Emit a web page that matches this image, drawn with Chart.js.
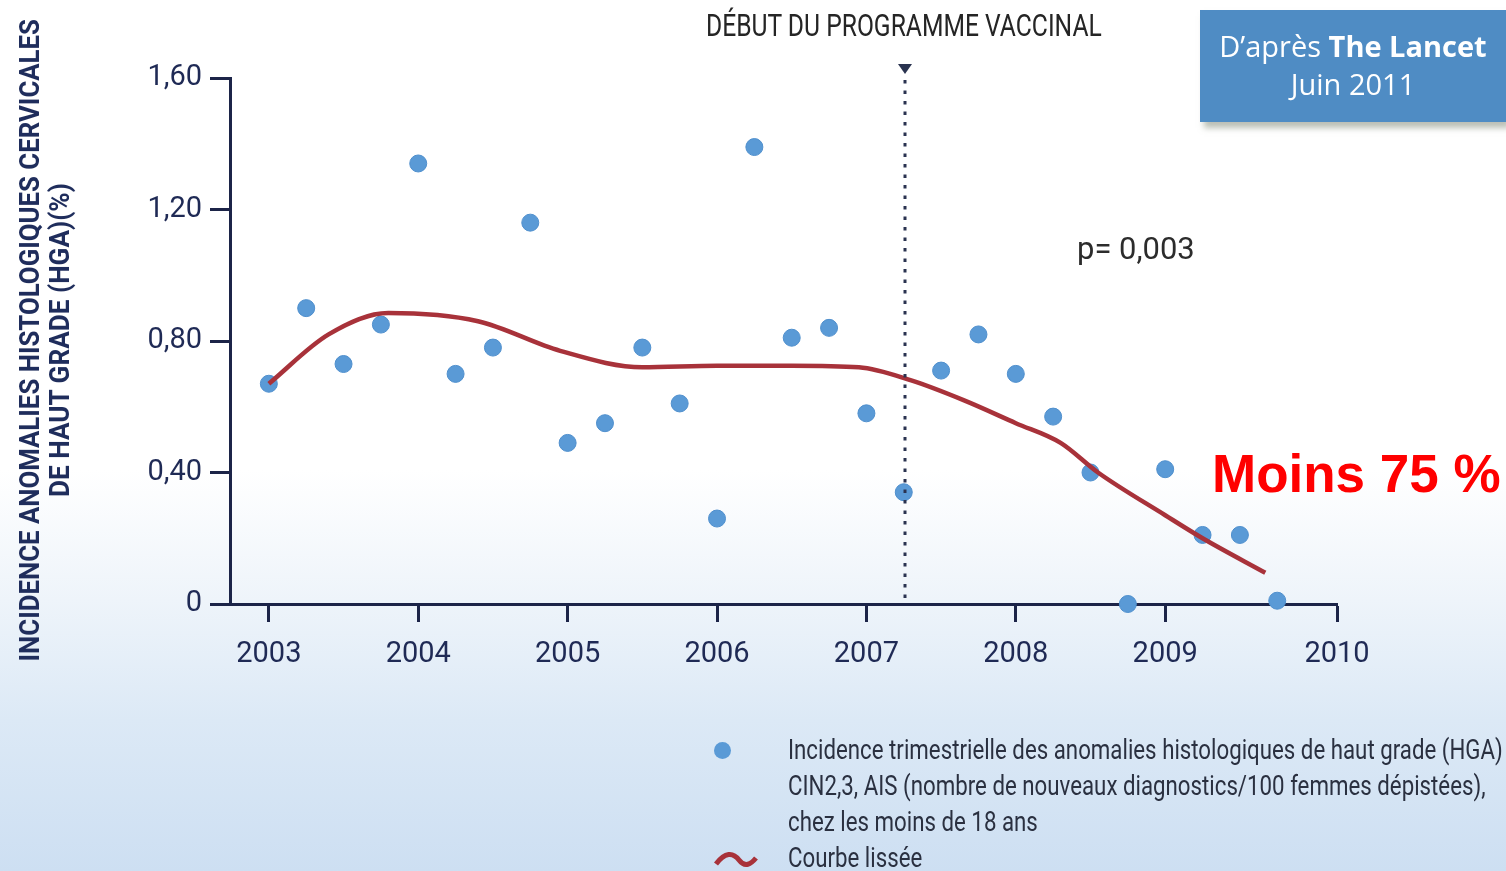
<!DOCTYPE html>
<html lang="fr">
<head>
<meta charset="utf-8">
<title>Incidence HGA</title>
<script src="https://cdn.jsdelivr.net/npm/chart.js@4.4.1/dist/chart.umd.min.js"></script>
<style>
  html, body { margin: 0; padding: 0; }
  body {
    width: 1506px; height: 871px; overflow: hidden; position: relative;
    background: linear-gradient(to bottom, #ffffff 0px, #ffffff 470px, #eef4fa 600px, #dce9f6 720px, #cddff2 871px);
    font-family: Roboto, 'Noto Sans', sans-serif;
  }
  #wrap { position: absolute; left: 0; top: 0; width: 1506px; height: 871px; }
  .lbl { position: absolute; white-space: nowrap; }
  .fit { display: inline-block; white-space: nowrap; transform-origin: left center; }
  #ytitle {
    position: absolute; left: 45px; top: 340px; width: 800px; margin-left: -400px;
    transform: translateY(-50%) rotate(-90deg); text-align: center;
    color: #1f2d5c; font-size: 28px; line-height: 30px; font-weight: bold;
  }
  #ytitle .fit { transform-origin: center center; }
  #heading { left: 706px; top: 7px; font-size: 31px; color: #252525; }
  #source {
    position: absolute; left: 1200px; top: 10px; width: 306px; height: 112px;
    background: #4f8cc4; box-shadow: 4px 6px 6px rgba(120,130,110,0.5);
    color: #fff; text-align: center; font-family: 'Open Sans', 'Noto Sans', sans-serif;
    font-size: 29px; line-height: 38px; padding-top: 17px; box-sizing: border-box;
  }
  #source b { font-weight: bold; }
  #pval { left: 1077px; top: 229px; font-size: 32px; color: #2c2c2c; }
  #moins { left: 1212px; top: 443px; font-family: 'Liberation Sans', Arial, sans-serif; font-weight: bold; font-size: 53px; color: #ff0000; }
  #legend { left: 788px; top: 732px; font-size: 27px; line-height: 36px; color: #2a3040; }
  #legend .fit { display: block; width: max-content; }
  #legdot { position: absolute; left: 714px; top: 742px; width: 17px; height: 17px; border-radius: 50%; background: #5a9ad6; }
  #legline { position: absolute; left: 713px; top: 848px; }
</style>
</head>
<body>
<div id="wrap"><canvas id="chart" width="1506" height="871"></canvas></div>

<div id="ytitle">
  <div><span class="fit" data-w="642">INCIDENCE ANOMALIES HISTOLOGIQUES CERVICALES</span></div>
  <div><span class="fit" data-w="314">DE HAUT GRADE (HGA)(%)</span></div>
</div>
<div class="lbl" id="heading"><span class="fit" data-w="396">DÉBUT DU PROGRAMME VACCINAL</span></div>
<div id="source">D’après <b>The Lancet</b><br>Juin 2011</div>
<div class="lbl" id="pval"><span class="fit" data-w="118">p= 0,003</span></div>
<div class="lbl" id="moins">Moins 75 %</div>
<div id="legdot"></div>
<svg id="legline" width="46" height="22"><path d="M3 16 C 12 4, 20 4, 26 12 S 38 16, 43 10" stroke="#a8323a" stroke-width="5" fill="none"/></svg>
<div class="lbl" id="legend">
  <span class="fit" id="leg1">Incidence trimestrielle des anomalies histologiques de haut grade (HGA)</span>
  <span class="fit">CIN2,3, AIS (nombre de nouveaux diagnostics/100 femmes dépistées),</span>
  <span class="fit">chez les moins de 18 ans</span>
  <span class="fit">Courbe lissée</span>
</div>

<script>
// quarterly incidence (dots)
const quarters = [2003, 2003.25, 2003.5, 2003.75, 2004, 2004.25, 2004.5, 2004.75,
  2005, 2005.25, 2005.5, 2005.75, 2006, 2006.25, 2006.5, 2006.75,
  2007, 2007.25, 2007.5, 2007.75, 2008, 2008.25, 2008.5, 2008.75,
  2009, 2009.25, 2009.5, 2009.75];
const incidence = [0.67, 0.90, 0.73, 0.85, 1.34, 0.70, 0.78, 1.16,
  0.49, 0.55, 0.78, 0.61, 0.26, 1.39, 0.81, 0.84,
  0.58, 0.34, 0.71, 0.82, 0.70, 0.57, 0.40, 0.00,
  0.41, 0.21, 0.21, 0.01];

// smoothed curve
const smoothX = [2003, 2003.4, 2003.8, 2004.4, 2004.95, 2005.5, 2006.0, 2006.5, 2006.95,
  2007.3, 2007.65, 2008.0, 2008.3, 2008.55, 2009.0, 2009.25, 2009.67];
const smoothY = [0.67, 0.82, 0.885, 0.86, 0.77, 0.72, 0.725, 0.725, 0.72,
  0.68, 0.62, 0.55, 0.49, 0.40, 0.27, 0.20, 0.095];

const yearTicks = [2003, 2004, 2005, 2006, 2007, 2008, 2009, 2010.15];
const yearLabels = ['2003', '2004', '2005', '2006', '2007', '2008', '2009', '2010'];
const vaccineStart = 2007.26;

const navy = '#1c2448';

// squeeze the html labels to the condensed widths of the original
document.querySelectorAll('.fit[data-w]').forEach(el => {
  el.style.transform = 'scaleX(' + (el.dataset.w / el.offsetWidth) + ')';
});
const legLines = document.querySelectorAll('#legend .fit');
const legScale = 715 / document.getElementById('leg1').offsetWidth;
legLines.forEach(el => { el.style.transform = 'scaleX(' + legScale + ')'; });

const vaccineLine = {
  id: 'vaccineLine',
  afterDatasetsDraw(chart) {
    const ctx = chart.ctx;
    const x = Math.round(chart.scales.x.getPixelForValue(vaccineStart));
    const top = chart.chartArea.top - 8;
    const bottom = chart.chartArea.bottom - 4;
    ctx.save();
    ctx.fillStyle = '#2a3350';
    for (let y = top + 10; y < bottom; y += 10.5) {
      ctx.fillRect(x - 1.5, y, 3, 3.5);
    }
    ctx.beginPath();
    ctx.moveTo(x - 7, top - 6);
    ctx.lineTo(x + 7, top - 6);
    ctx.lineTo(x, top + 4);
    ctx.closePath();
    ctx.fill();
    ctx.restore();
  }
};

new Chart(document.getElementById('chart'), {
  type: 'scatter',
  data: {
    datasets: [
      {
        type: 'line',
        label: 'Courbe lissée',
        data: smoothX.map((x, i) => ({ x: x, y: smoothY[i] })),
        borderColor: '#a8323a',
        borderWidth: 4.5,
        pointRadius: 0,
        fill: false,
        cubicInterpolationMode: 'monotone',
        order: 0
      },
      {
        label: 'Incidence trimestrielle',
        data: quarters.map((x, i) => ({ x: x, y: incidence[i] })),
        backgroundColor: '#5a9ad6',
        borderColor: '#4f8fcd',
        borderWidth: 1,
        pointRadius: 8.5,
        order: 1
      }
    ]
  },
  options: {
    responsive: false,
    animation: false,
    clip: false,
    layout: { padding: { left: 0, right: 169, top: 78, bottom: 0 } },
    plugins: { legend: { display: false }, tooltip: { enabled: false } },
    scales: {
      x: {
        type: 'linear',
        min: 2003 - 0.26,
        max: 2010.15,
        afterBuildTicks: (axis) => { axis.ticks = yearTicks.map(v => ({ value: v })); },
        afterFit: (axis) => { axis.height = 871 - 604; },
        grid: { drawOnChartArea: false, drawTicks: true, tickLength: 18, tickWidth: 3, tickColor: navy },
        border: { color: navy, width: 3 },
        ticks: {
          color: '#1f2a55',
          font: { family: 'Roboto, sans-serif', size: 29 },
          padding: 15,
          maxRotation: 0,
          callback: (v, i) => yearLabels[i]
        }
      },
      y: {
        min: 0,
        max: 1.6,
        afterFit: (axis) => { axis.width = 230; },
        grid: { drawOnChartArea: false, drawTicks: true, tickLength: 20, tickWidth: 3, tickColor: navy },
        border: { color: navy, width: 3 },
        ticks: {
          stepSize: 0.4,
          color: '#1f2a55',
          padding: 8,
          font: { family: 'Roboto, sans-serif', size: 29 },
          callback: (v) => v === 0 ? '0' : v.toFixed(2).replace('.', ',')
        }
      }
    }
  },
  plugins: [vaccineLine]
});
</script>
</body>
</html>
